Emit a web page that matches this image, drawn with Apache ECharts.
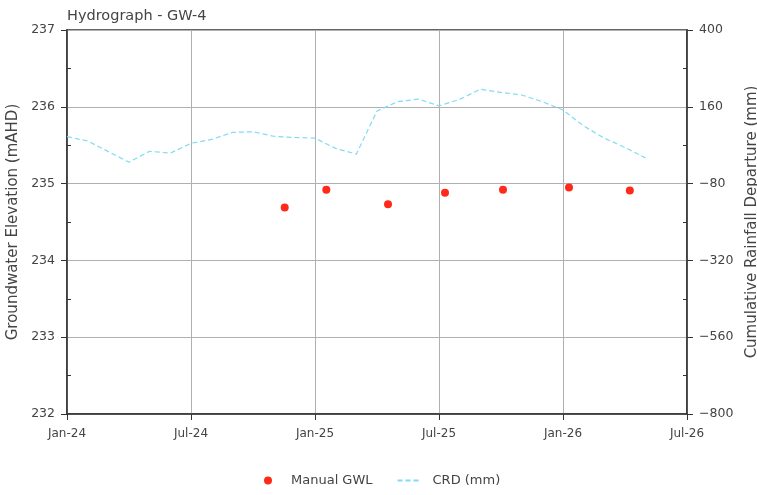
<!DOCTYPE html>
<html><head><meta charset="utf-8">
<script src="https://cdn.jsdelivr.net/npm/echarts@6/dist/echarts.min.js"></script>
<style>html,body{margin:0;padding:0;background:#fff}#c{width:757px;height:495px}</style>
</head><body><div id="c"></div>
<script>
// X ticks (months from Jan-2024)
var xTickLabels = ['Jan-24','Jul-24','Jan-25','Jul-25','Jan-26','Jul-26'];
// CRD monthly, starting Jan-2024
var crdStart = '2024-01';
var crdValues = [67,53,20,-13,21,15,46,58,80,82,68,64,62,30,12,147,176,184,163,183,215,205,197,176,150,100,62,33,0];
// Manual GWL
var gwlDates = ['2024-11-17','2025-01-18','2025-04-17','2025-07-10','2025-10-04','2026-01-10','2026-04-08'];
var gwlValues = [234.69,234.92,234.73,234.88,234.92,234.95,234.91];

function monthIndex(s){
  var p = s.split('-').map(Number);
  var y=p[0], m=p[1], d=p[2]||1;
  var dim = new Date(y, m, 0).getDate();
  return (y-2024)*12 + (m-1) + (d-1)/dim;
}
var crdData = crdValues.map(function(v,i){return [i, v];});
var gwlData = gwlDates.map(function(d,i){return [monthIndex(d), gwlValues[i]];});

var txt = '#444';
var font = 'DejaVu Sans';
var chart = echarts.init(document.getElementById('c'));
chart.setOption({
  animation:false,
  textStyle:{fontFamily:font},
  title:{text:'Hydrograph - GW-4', left:62, top:4, textStyle:{fontFamily:font,fontSize:14.5,fontWeight:'normal',color:txt}},
  grid:{left:67,right:70,top:30,bottom:81,outerBoundsMode:'none',containLabel:false,show:true,borderColor:'#333',borderWidth:1.5},
  legend:{top:469,left:259,itemGap:24,itemWidth:24,itemHeight:8,textStyle:{fontFamily:font,fontSize:13,color:txt,padding:[0,0,0,6]},
    data:[{name:'Manual GWL',icon:'circle'},{name:'CRD (mm)',itemStyle:{opacity:0}}]},
  xAxis:{type:'value',min:0,max:30,interval:6,
    axisLine:{show:true,onZero:false,lineStyle:{color:'#333',width:1.5}},
    axisTick:{show:true,length:6,lineStyle:{color:'#333'}},
    axisLabel:{fontSize:12,color:txt,margin:14,formatter:function(v){return xTickLabels[Math.round(v/6)];}},
    splitLine:{show:true,lineStyle:{color:'#b0b0b0',width:1}}},
  yAxis:[{type:'value',min:232,max:237,interval:1,position:'left',
    name:'Groundwater Elevation (mAHD)',nameLocation:'middle',nameGap:37,nameTextStyle:{fontSize:15,color:txt},
    axisLine:{show:true,onZero:false,lineStyle:{color:'#333',width:1.5}},
    axisTick:{show:true,length:6,lineStyle:{color:'#333'}},
    minorTick:{show:true,splitNumber:2,length:-4,lineStyle:{color:'#333'}},
    axisLabel:{fontSize:12.5,color:txt,margin:12},
    splitLine:{show:true,lineStyle:{color:'#b0b0b0',width:1}}},
   {type:'value',min:-800,max:400,interval:240,position:'right',
    name:'Cumulative Rainfall Departure (mm)',nameLocation:'middle',nameGap:51,nameRotate:90,nameTextStyle:{fontSize:15,color:txt},
    axisLine:{show:true,onZero:false,lineStyle:{color:'#333',width:1.5}},
    axisTick:{show:true,length:6,lineStyle:{color:'#333'}},
    minorTick:{show:true,splitNumber:2,length:-4,lineStyle:{color:'#333'}},
    axisLabel:{fontSize:12.5,color:txt,margin:12,formatter:function(v){return String(v).replace('-','\u2212');}},
    splitLine:{show:false}}],
  series:[
    {name:'Manual GWL',type:'scatter',yAxisIndex:0,data:gwlData,symbolSize:8,itemStyle:{color:'#ff2a1a',opacity:1},z:3},
    {name:'CRD (mm)',type:'line',yAxisIndex:1,data:crdData,showSymbol:false,symbol:'none',
      lineStyle:{color:'#7fdcf2',width:1.2,type:[5,3]},itemStyle:{color:'#7fdcf2'},z:2}
  ]
});
</script></body></html>
